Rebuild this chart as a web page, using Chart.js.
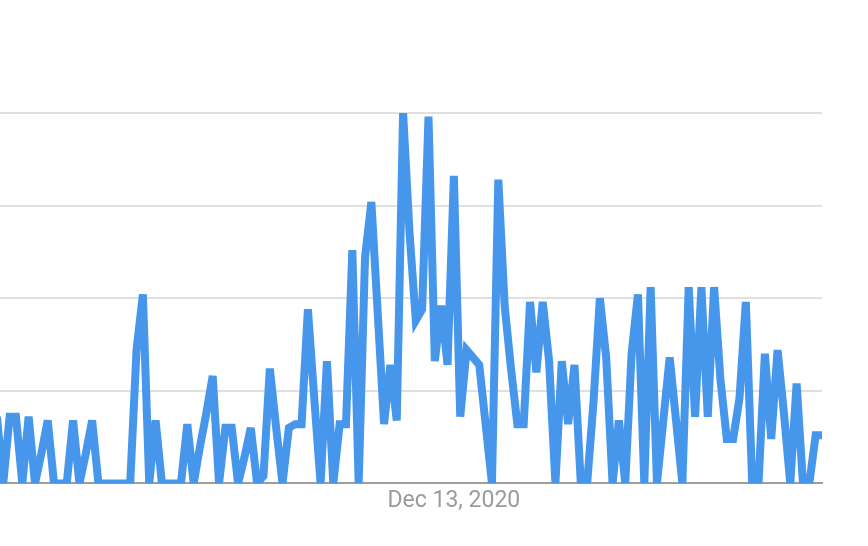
<!DOCTYPE html>
<html>
<head>
<meta charset="utf-8">
<script src="https://cdn.jsdelivr.net/npm/chart.js@4.4.0/dist/chart.umd.min.js"></script>
<style>
  html, body { margin: 0; padding: 0; background: #ffffff; }
  #wrap { width: 868px; height: 546px; }
</style>
</head>
<body>
<div id="wrap"><canvas id="chart" width="868" height="546"></canvas></div>
<script>
// Daily search interest (0-100), first value is the day partly cut off at the left edge
const interest = [
  18, 0, 18, 18, 0, 18, 0, 8, 17, 0,
  0, 0, 17, 0, 8, 17, 0, 0, 0, 0,
  0, 0, 36, 51, 0, 17, 0, 0, 0, 0,
  16, 0, 10, 19, 29, 0, 15, 15, 0, 7,
  15, 0, 2, 31, 15, 0, 15, 16, 16, 47,
  23, 0, 33, 0, 16, 16, 63, 0, 61, 76,
  46, 16, 32, 17, 100, 68, 44, 47, 99, 33,
  48, 32, 83, 18, 36, 34, 32, 16, 0, 82,
  48, 31, 16, 16, 49, 30, 49, 33, 0, 33,
  16, 32, 0, 0, 22, 50, 34, 0, 17, 0,
  35, 51, 0, 53, 0, 17, 34, 17, 0, 53,
  18, 53, 18, 53, 28, 12, 12, 23, 49, 0,
  0, 35, 12, 36, 19, 0, 27, 0, 0, 13,
  13
];
const firstDay = [2020, 10, 2];           // year, month, day of the first value
const monthNames = ['Jan','Feb','Mar','Apr','May','Jun','Jul','Aug','Sep','Oct','Nov','Dec'];
const shownTicks = ['Dec 13, 2020'];
const gridValues = [0, 25, 50, 75, 100];

const dates = [];
for (let k = 0; k < interest.length; k++) {
  const d = new Date(Date.UTC(firstDay[0], firstDay[1] - 1, firstDay[2] + k));
  dates.push(monthNames[d.getUTCMonth()] + ' ' + d.getUTCDate() + ', ' + d.getUTCFullYear());
}

const points = interest.map((v, k) => ({ x: k, y: v }));

new Chart(document.getElementById('chart').getContext('2d'), {
  type: 'line',
  data: {
    datasets: [{
      data: points,
      borderColor: '#4696ec',
      borderWidth: 8,
      pointRadius: 0,
      pointHoverRadius: 0,
      tension: 0,
      fill: false,
      clip: 0,
      borderCapStyle: 'butt',
      borderJoinStyle: 'miter'
    }]
  },
  options: {
    responsive: false,
    animation: false,
    devicePixelRatio: 1,
    layout: { padding: { left: 0, right: 46, top: 113, bottom: 27 } },
    plugins: { legend: { display: false }, tooltip: { enabled: false } },
    scales: {
      x: {
        type: 'linear',
        min: 0.488,
        max: interest.length - 1,
        grid: { display: false, drawTicks: false },
        border: { display: true, color: '#9e9e9e', width: 2 },
        ticks: {
          padding: 4,
          autoSkip: false,
          maxRotation: 0,
          color: '#9b9b9b',
          font: { family: 'Roboto', size: 23 },
          callback: (v) => dates[v]
        },
        afterBuildTicks: (scale) => {
          scale.ticks = dates
            .map((label, k) => ({ value: k, label }))
            .filter(t => shownTicks.includes(t.label))
            .map(t => ({ value: t.value }));
        }
      },
      y: {
        min: gridValues[0],
        max: gridValues[gridValues.length - 1],
        ticks: { display: false, stepSize: gridValues[1] - gridValues[0] },
        grid: {
          drawTicks: false,
          lineWidth: 2,
          color: (ctx) => (ctx.tick && ctx.tick.value === 0) ? 'rgba(0,0,0,0)' : '#e0e0e0'
        },
        border: { display: false }
      }
    }
  },
  plugins: [{
    id: 'miterLimit',
    beforeDatasetsDraw(chart) { chart.ctx.miterLimit = 4; }
  }]
});
</script>
</body>
</html>
